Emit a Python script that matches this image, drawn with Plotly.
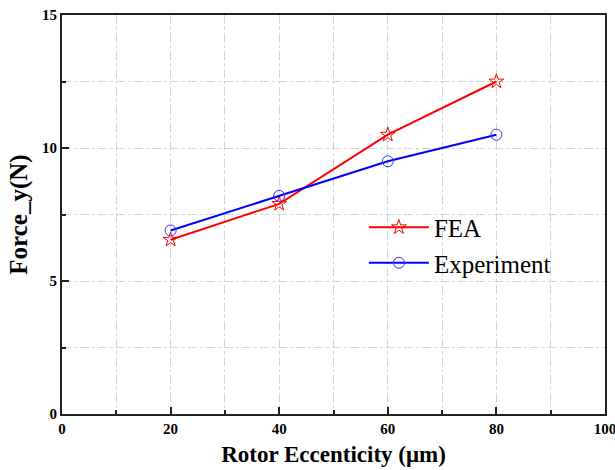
import plotly.graph_objects as go

# Rotor eccentricity (µm) and the y-direction force (N)
eccentricity = [20, 40, 60, 80]
force_fea = [6.55, 7.9, 10.5, 12.5]
force_experiment = [6.9, 8.2, 9.5, 10.5]

x_ticks = [0, 20, 40, 60, 80, 100]
y_ticks = [0, 5, 10, 15]

serif = "Liberation Serif"

fig = go.Figure()
fig.add_trace(go.Scatter(
    x=eccentricity, y=force_fea, name="FEA", mode="lines+markers",
    line=dict(color="#ff0000", width=2),
    marker=dict(symbol="star-open", size=11, color="#ff0000", line=dict(width=1)),
))
fig.add_trace(go.Scatter(
    x=eccentricity, y=force_experiment, name="Experiment", mode="lines+markers",
    line=dict(color="#0000ff", width=2),
    marker=dict(symbol="circle-open", size=11, color="#3333ff", line=dict(width=1)),
))

axis_common = dict(
    showline=True, linecolor="#222222", linewidth=2, mirror=True,
    ticks="inside", tickcolor="#222222", tickwidth=2, ticklen=7,
    showgrid=True, gridcolor="#d4d4d4", gridwidth=1, griddash="dashdot",
    zeroline=False, automargin=False, ticklabeloverflow="allow",
    tickfont=dict(family=serif, size=15, color="#000000", weight="bold"),
)

fig.update_xaxes(
    range=[0, 100], tickvals=x_ticks, ticktext=[str(v) for v in x_ticks],
    minor=dict(dtick=10, tick0=0, ticks="inside", ticklen=4, tickcolor="#222222",
               showgrid=True, gridcolor="#d4d4d4", griddash="dashdot"),
    title=dict(text="Rotor Eccenticity (μm)",
               font=dict(family=serif, size=23, color="#000000", weight="bold"),
               standoff=10),
    **axis_common,
)
fig.update_yaxes(
    range=[0, 15], tickvals=y_ticks, ticktext=[str(v) for v in y_ticks],
    minor=dict(dtick=2.5, tick0=0, ticks="inside", ticklen=4, tickcolor="#222222",
               showgrid=True, gridcolor="#d4d4d4", griddash="dashdot"),
    title=dict(text="Force_y(N)",
               font=dict(family=serif, size=25, color="#000000", weight="bold"),
               standoff=7),
    **axis_common,
)

fig.update_layout(
    width=615, height=470,
    margin=dict(l=62, r=10, t=15, b=56),
    paper_bgcolor="white", plot_bgcolor="white",
    font=dict(family=serif),
    showlegend=True,
    legend=dict(
        x=0.556, y=0.525, xanchor="left", yanchor="top",
        bgcolor="rgba(0,0,0,0)", font=dict(family=serif, size=25, color="#000000"),
        itemwidth=60, tracegroupgap=0,
    ),
)

fig.write_html("out.html")
